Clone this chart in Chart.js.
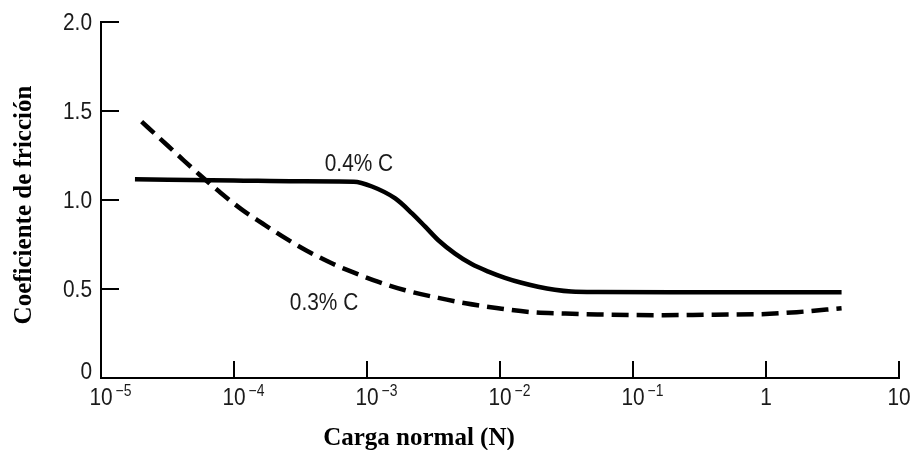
<!DOCTYPE html>
<html>
<head>
<meta charset="utf-8">
<script src="https://cdn.jsdelivr.net/npm/chart.js@4.4.1/dist/chart.umd.min.js"></script>
<style>
  html, body { margin: 0; padding: 0; background: #fff; }
</style>
</head>
<body>
<canvas id="frictionChart" width="910" height="450"></canvas>
<script>
// carga normal (N) vs coeficiente de friccion
const loads04 = [1.8e-5, 1e-4, 3e-4, 7.96e-4, 1.09e-3, 1.63e-3, 2.18e-3, 2.74e-3, 3.44e-3, 4.59e-3, 6.12e-3, 8.17e-3, 1.09e-2, 1.45e-2, 1.93e-2, 2.58e-2, 3.43e-2, 5.43e-2, 0.3, 3.7];
const mu04    = [1.116,  1.11, 1.105, 1.103, 1.076,   1.009,   0.925,   0.850,   0.774,   0.699,   0.640,   0.598,   0.563,   0.535,   0.513,   0.496,   0.486,   0.483,   0.482, 0.482];

const loads03 = [2.02e-5, 2.77e-5, 3.91e-5, 5.51e-5, 7.78e-5, 1.16e-4, 1.64e-4, 2.45e-4, 3.47e-4, 5.48e-4, 7.73e-4, 1.22e-3, 1.94e-3, 3.44e-3, 5.5e-3, 9.7e-3, 1.71e-2, 3.1e-2, 5.4e-2, 0.17, 0.41, 0.86, 1.7, 3.7];
const mu03    = [1.440,   1.346,   1.243,   1.142,   1.046,   0.943,   0.868,   0.784,   0.718,   0.643,   0.596,   0.540,   0.493,   0.450,   0.420,  0.392,  0.370,   0.362,  0.357,  0.353, 0.356, 0.358, 0.370, 0.392];

const seriesNames = ['0.4% C', '0.3% C'];
// curve labels, in data units
const labelLoads = [8.7e-4, 4.75e-4];
const labelMu = [1.208, 0.426];

const xTicks = [1e-5, 1e-4, 1e-3, 1e-2, 1e-1, 1, 10];
const xTickBase = ['10', '10', '10', '10', '10', '1', '10'];
const xTickExp = ['\u22125', '\u22124', '\u22123', '\u22122', '\u22121', '', ''];
const yTicks = [0, 0.5, 1.0, 1.5, 2.0];
const yTickLabels = ['0', '0.5', '1.0', '1.5', '2.0'];

const xTitle = 'Carga normal (N)';
const yTitle = 'Coeficiente de fricción';

const SANS = '"Liberation Sans", Arial, sans-serif';
const SERIF = '"Liberation Serif", "Times New Roman", serif';
const SQUEEZE = 0.87; // the scan's lettering is a condensed grotesque

function toPoints(xs, ys) {
    return xs.map((v, i) => ({ x: v, y: ys[i] }));
}

// text squeezed horizontally; returns drawn width
function narrowText(ctx, str, x, y, align, size) {
    ctx.save();
    ctx.font = size + 'px ' + SANS;
    ctx.textBaseline = 'middle';
    ctx.textAlign = align;
    ctx.translate(x, y);
    ctx.scale(SQUEEZE, 1);
    ctx.fillText(str, 0, 0);
    const w = ctx.measureText(str).width * SQUEEZE;
    ctx.restore();
    return w;
}

// inward ticks, tick labels with superscripts, titles and curve labels
const axisDecor = {
    id: 'axisDecor',
    afterDraw(chart) {
        const ctx = chart.ctx;
        const a = chart.chartArea;
        const x = chart.scales.x;
        const y = chart.scales.y;
        ctx.save();
        ctx.strokeStyle = '#000';
        ctx.lineWidth = 2;

        xTicks.forEach(v => {
            const px = x.getPixelForValue(v);
            ctx.beginPath();
            ctx.moveTo(px, a.bottom);
            ctx.lineTo(px, a.bottom - 17);
            ctx.stroke();
        });
        yTicks.forEach(v => {
            if (v === 0) return;
            const py = y.getPixelForValue(v);
            ctx.beginPath();
            ctx.moveTo(a.left, py);
            ctx.lineTo(a.left + 18, py);
            ctx.stroke();
        });

        ctx.fillStyle = '#1a1a1a';
        yTicks.forEach((v, i) => {
            const lift = v === 0 ? 7 : 0;
            narrowText(ctx, yTickLabels[i], a.left - 9, y.getPixelForValue(v) + 1 - lift, 'right', 24);
        });

        xTicks.forEach((v, i) => {
            const px = x.getPixelForValue(v);
            const bw = narrowText(ctx, xTickBase[i], px, a.bottom + 20, 'center', 24);
            if (xTickExp[i]) {
                narrowText(ctx, xTickExp[i], px + bw / 2 + 3, a.bottom + 14, 'left', 16);
            }
        });

        seriesNames.forEach((name, i) => {
            narrowText(ctx, name, x.getPixelForValue(labelLoads[i]), y.getPixelForValue(labelMu[i]) + 1, 'center', 24);
        });

        ctx.fillStyle = '#000';
        ctx.font = 'bold 25px ' + SERIF;
        ctx.textAlign = 'center';
        ctx.textBaseline = 'middle';
        ctx.fillText(xTitle, 419, 439);
        ctx.translate(25, 205);
        ctx.rotate(-Math.PI / 2);
        ctx.fillText(yTitle, 0, 0);
        ctx.restore();
    }
};

new Chart(document.getElementById('frictionChart'), {
    type: 'line',
    data: {
        datasets: [{
            label: seriesNames[0],
            data: toPoints(loads04, mu04),
            borderColor: '#000',
            borderWidth: 4.5,
            pointRadius: 0,
            cubicInterpolationMode: 'monotone'
        }, {
            label: seriesNames[1],
            data: toPoints(loads03, mu03),
            borderColor: '#000',
            borderWidth: 4.5,
            borderDash: [17, 8],
            pointRadius: 0,
            cubicInterpolationMode: 'monotone'
        }]
    },
    options: {
        responsive: false,
        animation: false,
        devicePixelRatio: 1,
        layout: { padding: { top: 22, right: 11, left: 0, bottom: 0 } },
        plugins: { legend: { display: false }, tooltip: { enabled: false } },
        scales: {
            x: {
                type: 'logarithmic',
                min: 1e-5,
                max: 10,
                grid: { display: false },
                border: { display: true, color: '#000', width: 2 },
                ticks: { display: false },
                afterFit: s => { s.height = 72; }
            },
            y: {
                type: 'linear',
                min: 0,
                max: 2,
                grid: { display: false },
                border: { display: true, color: '#000', width: 2 },
                ticks: { display: false },
                afterFit: s => { s.width = 101; }
            }
        }
    },
    plugins: [axisDecor]
});
</script>
</body>
</html>
